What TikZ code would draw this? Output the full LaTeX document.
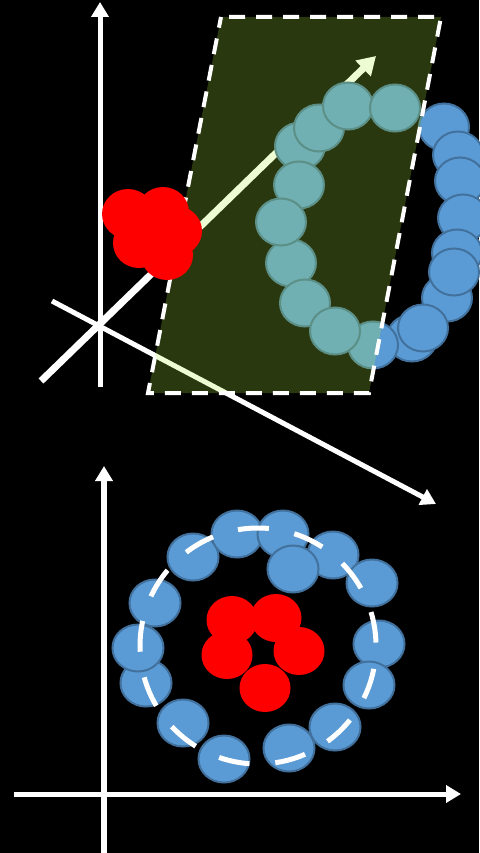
\documentclass[tikz,border=0pt]{standalone}
\usepackage{tikz}
\usetikzlibrary{arrows.meta}
\definecolor{ballblue}{RGB}{91,155,213}
\definecolor{balledge}{RGB}{65,113,156}
\definecolor{planegreen}{RGB}{183,243,65}

\begin{document}
\begin{tikzpicture}[x=1pt, y=-1pt, >={Triangle[length=15pt,width=17pt]},
  axis/.style={white, line width=5pt},
  ball/.style={fill=ballblue, draw=balledge, line width=2pt},
  core/.style={fill=red}]

\useasboundingbox (0,0) rectangle (479,853); \fill[black] (0,0) rectangle (479,853);

  % Define coordinates for the axes
\coordinate (O) at (100,326); \coordinate (Ot) at (100,2); \coordinate (Ob) at (100,387); \coordinate (Dl) at (41,381); \coordinate (Dr) at (376,56); \coordinate (Tl) at (52,301); \coordinate (Tr) at (436,504);
\coordinate (Pt) at (104,466); \coordinate (Pb) at (104,853); \coordinate (Pl) at (14,794); \coordinate (Pr) at (461,794);
\coordinate (A) at (148,393); \coordinate (B) at (221,17); \coordinate (C) at (441,17); \coordinate (D) at (369,393); \coordinate (M) at (258,646);

  % Draw the axes
\draw[axis, ->] (Ob) -- (Ot); \draw[axis, line width=7pt, -{Triangle[length=18pt,width=21pt]}] (Dl) -- (Dr); \draw[axis, ->] (Tl) -- (Tr);
\draw[axis, line width=5.5pt, ->] (Pb) -- (Pt); \draw[axis, ->] (Pl) -- (Pr);

  % Ring of points in 3d
\foreach \x/\y in {444/127, 458/155, 460/181, 463/218, 457/253, 447/298, 454/272, 412/338, 423/328, 373/345, 300/146, 319/128, 348/106, 395/108, 299/185, 291/263, 281/222, 305/303, 335/331}
  \draw[ball] (\x,\y) ellipse [x radius=25, y radius=23.5];

  % Separating plane
\fill[planegreen, fill opacity=0.23] (B) -- (C) -- (D) -- (A) -- cycle;
\draw[white, line width=4pt, dash pattern=on 16pt off 11pt, dash phase=19pt] (B) -- (C) -- (D) -- (A) -- cycle;

\foreach \x/\y in {128/214, 163/212, 176/231, 139/243, 167/255}
  \fill[core] (\x,\y) ellipse [x radius=26, y radius=25];

  % Ring of points in 2d
\foreach \x/\y in {193/557, 237/534, 283/534, 333/555, 293/569, 372/583, 379/644, 369/685, 335/727, 289/748, 224/759, 183/723, 146/683, 138/648, 155/603}
  \draw[ball] (\x,\y) ellipse [x radius=25.5, y radius=23.5];
\foreach \x/\y in {232/620, 276/618, 227/655, 299/651, 265/688}
  \fill[core] (\x,\y) ellipse [x radius=25.5, y radius=24];
\draw[white, line width=5pt, dash pattern=on 31pt off 26pt, dash phase=34pt] (M) circle [x radius=118, y radius=118];

\end{tikzpicture}
\end{document}
